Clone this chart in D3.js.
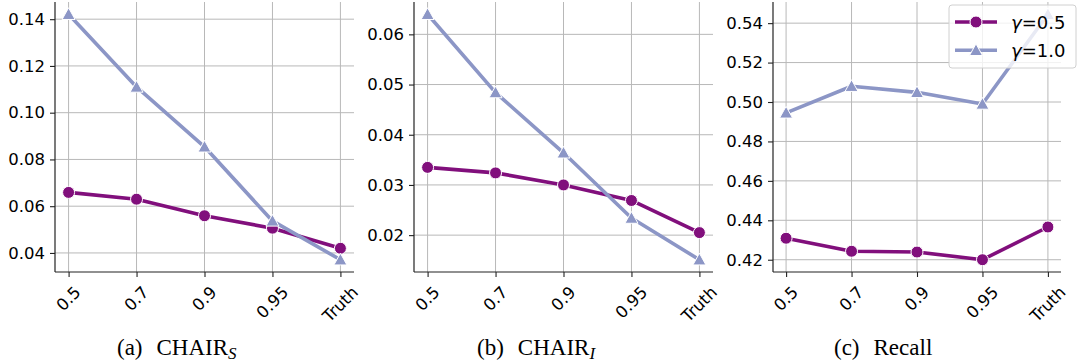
<!DOCTYPE html>
<html>
<head>
<meta charset="utf-8">
<script src="https://cdn.jsdelivr.net/npm/d3@7"></script>
<style>
  body { margin: 0; background: #fff; }
  svg { display: block; }
</style>
</head>
<body>
<div class="chart"></div>
<script>
// x categories (threshold) shared by all panels
const categories = ["0.5", "0.7", "0.9", "0.95", "Truth"];

// series values
const chairS_g05 = [0.0659, 0.0630, 0.0559, 0.0506, 0.0420];
const chairS_g10 = [0.1421, 0.1110, 0.0854, 0.0537, 0.0371];
const chairI_g05 = [0.0335, 0.0324, 0.0300, 0.0269, 0.0205];
const chairI_g10 = [0.0640, 0.0484, 0.0364, 0.0234, 0.0151];
const recall_g05 = [0.4309, 0.4243, 0.4239, 0.4200, 0.4366];
const recall_g10 = [0.4945, 0.5080, 0.5049, 0.4990, 0.5445];

// y tick labels per panel
const chairS_ticks = [0.04, 0.06, 0.08, 0.10, 0.12, 0.14];
const chairI_ticks = [0.02, 0.03, 0.04, 0.05, 0.06];
const recall_ticks = [0.42, 0.44, 0.46, 0.48, 0.50, 0.52, 0.54];

const seriesNames = ["γ=0.5", "γ=1.0"];
const colors = ["#810f7c", "#8c96c6"];

const W = 1077, H = 364;
const svg = d3.select(".chart").append("svg")
  .attr("width", W).attr("height", H)
  .attr("viewBox", `0 0 ${W} ${H}`);

const tickFont = "DejaVu Sans, sans-serif";
const captionFont = "Liberation Serif, DejaVu Serif, serif";

// panel boxes (plot areas)
const panels = [
  { left: 55, right: 354, series: [chairS_g05, chairS_g10], ticks: chairS_ticks, tag: "(a)", title: "CHAIR", sub: "S", capX: 117 },
  { left: 414, right: 713, series: [chairI_g05, chairI_g10], ticks: chairI_ticks, tag: "(b)", title: "CHAIR", sub: "I", capX: 477 },
  { left: 773, right: 1061, series: [recall_g05, recall_g10], ticks: recall_ticks, tag: "(c)", title: "Recall", sub: "", capX: 834 }
];
const plotTop = 2, plotBottom = 272;

// matplotlib style '^' marker: bbox-centred triangle
function triPath(r) {
  return `M0,${-r}L${-r},${r * 0.8}L${r},${r * 0.8}Z`;
}

panels.forEach(p => {
  const g = svg.append("g");

  // x: point scale with 5% margins like matplotlib
  const x = d3.scalePoint()
    .domain(categories)
    .range([p.left, p.right])
    .padding(0.2);

  const all = p.series.flat();
  const lo = d3.min(all), hi = d3.max(all);
  const m = (hi - lo) * 0.05;
  const y = d3.scaleLinear()
    .domain([lo - m, hi + m])
    .range([plotBottom, plotTop]);

  // grid
  g.append("g").selectAll("line")
    .data(p.ticks).join("line")
    .attr("x1", p.left).attr("x2", p.right)
    .attr("y1", d => y(d)).attr("y2", d => y(d))
    .attr("stroke", "#b8b8b8").attr("stroke-width", 1);
  g.append("g").selectAll("line")
    .data(categories).join("line")
    .attr("x1", d => x(d)).attr("x2", d => x(d))
    .attr("y1", plotTop).attr("y2", plotBottom)
    .attr("stroke", "#b8b8b8").attr("stroke-width", 1);

  // y axis
  const yAxis = g.append("g")
    .attr("transform", `translate(${p.left},0)`)
    .call(d3.axisLeft(y).tickValues(p.ticks).tickFormat(d3.format(".2f")).tickSize(5).tickPadding(5));
  yAxis.select(".domain").remove();
  yAxis.selectAll("text").attr("font-family", tickFont).attr("font-size", 16.5).attr("fill", "#000");
  yAxis.selectAll("line").attr("stroke", "#222").attr("stroke-width", 1.1);

  // x axis ticks
  const xAxis = g.append("g")
    .attr("transform", `translate(0,${plotBottom})`)
    .call(d3.axisBottom(x).tickSize(5).tickFormat(""));
  xAxis.select(".domain").remove();
  xAxis.selectAll("line").attr("stroke", "#222").attr("stroke-width", 1.1);

  // rotated x labels, centred on tick like matplotlib rotation=45
  const fs = 16.5;
  categories.forEach(c => {
    const t = g.append("text")
      .attr("font-family", tickFont).attr("font-size", fs)
      .attr("fill", "#000")
      .attr("text-anchor", "middle")
      .attr("dominant-baseline", "central")
      .text(c);
    const w = t.node().getComputedTextLength();
    const hh = (w + fs * 0.95) / Math.SQRT2;
    t.attr("transform", `translate(${x(c)},${plotBottom + 12 + hh / 2}) rotate(-45)`);
  });

  // spines (left, bottom)
  g.append("line").attr("x1", p.left).attr("x2", p.left)
    .attr("y1", plotTop).attr("y2", plotBottom)
    .attr("stroke", "#222").attr("stroke-width", 1.2);
  g.append("line").attr("x1", p.left).attr("x2", p.right)
    .attr("y1", plotBottom).attr("y2", plotBottom)
    .attr("stroke", "#222").attr("stroke-width", 1.2);

  // lines with markers
  const line = d3.line()
    .x((d, i) => x(categories[i]))
    .y(d => y(d));

  p.series.forEach((vals, si) => {
    const sg = g.append("g");
    sg.append("path")
      .datum(vals)
      .attr("fill", "none")
      .attr("stroke", colors[si])
      .attr("stroke-width", 3.6)
      .attr("stroke-linejoin", "round")
      .attr("d", line);
    if (si === 0) {
      sg.selectAll("circle").data(vals).join("circle")
        .attr("cx", (d, i) => x(categories[i]))
        .attr("cy", d => y(d))
        .attr("r", 6)
        .attr("fill", colors[si])
        .attr("stroke", "#fff").attr("stroke-width", 1);
    } else {
      sg.selectAll("path.m").data(vals).join("path")
        .attr("class", "m")
        .attr("transform", (d, i) => `translate(${x(categories[i])},${y(d)})`)
        .attr("d", triPath(6.5))
        .attr("fill", colors[si])
        .attr("stroke", "#fff").attr("stroke-width", 1);
    }
  });

  // caption below the panel
  const cap = svg.append("text")
    .attr("font-family", captionFont).attr("font-size", 23)
    .attr("fill", "#000")
    .attr("x", p.capX).attr("y", 355);
  cap.append("tspan").text(p.tag);
  cap.append("tspan").attr("dx", 14).text(p.title);
  if (p.sub) {
    cap.append("tspan").attr("font-style", "italic").attr("font-size", 17)
      .attr("dy", 4).text(p.sub);
  }
});

// legend in panel (c)
const leg = svg.append("g").attr("transform", "translate(949,5)");
leg.append("rect")
  .attr("width", 127).attr("height", 63)
  .attr("rx", 3)
  .attr("fill", "#fff").attr("fill-opacity", 0.8)
  .attr("stroke", "#d0d0d0").attr("stroke-width", 1);

seriesNames.forEach((name, i) => {
  const ry = 17 + i * 28.3;
  const row = leg.append("g").attr("transform", `translate(0,${ry})`);
  row.append("line")
    .attr("x1", 6).attr("x2", 48)
    .attr("stroke", colors[i]).attr("stroke-width", 3.6);
  if (i === 0) {
    row.append("circle").attr("cx", 27).attr("cy", 0).attr("r", 6)
      .attr("fill", colors[i]).attr("stroke", "#fff").attr("stroke-width", 1);
  } else {
    row.append("path").attr("transform", "translate(27,0)")
      .attr("d", triPath(6.5))
      .attr("fill", colors[i]).attr("stroke", "#fff").attr("stroke-width", 1);
  }
  const t = row.append("text")
    .attr("x", 62).attr("y", 0)
    .attr("dominant-baseline", "central")
    .attr("font-family", tickFont).attr("font-size", 18)
    .attr("fill", "#000");
  t.append("tspan").attr("font-style", "italic").text(name.slice(0, 1));
  t.append("tspan").text(name.slice(1));
});
</script>
</body>
</html>
